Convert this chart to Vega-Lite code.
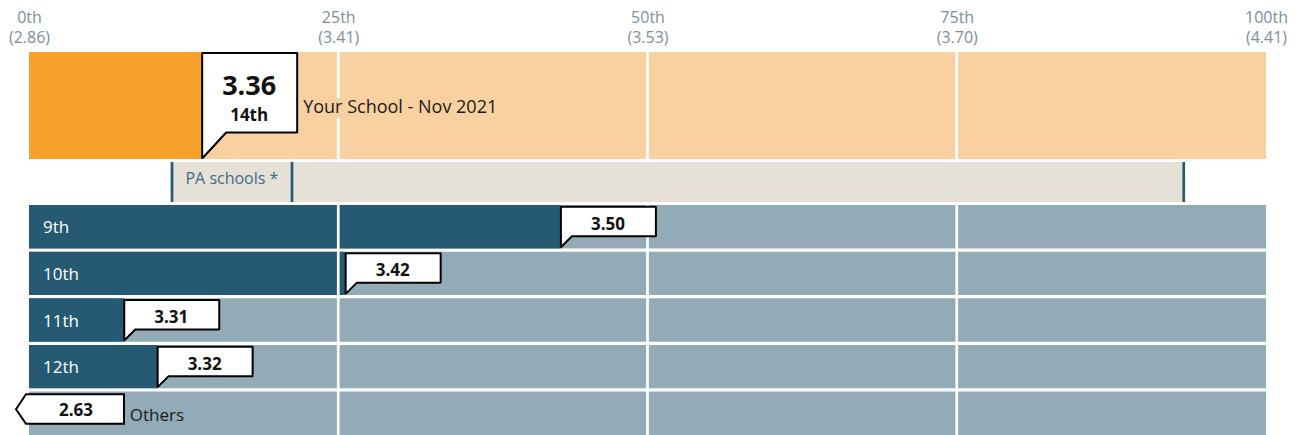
{
  "$schema": "https://vega.github.io/schema/vega-lite/v6.json",
  "padding": {"left": 8, "top": 9, "right": 0, "bottom": 0},
  "spacing": 3,
  "bounds": "flush",
  "config": {"view": {"stroke": null}, "font": "Open Sans"},
  "datasets": {
    "school": [{"row": "Your School", "value": 3.36, "pct": 14, "name": "Your School - Nov 2021", "rank": "14th"}],
    "grid": [{"p": 25}, {"p": 50}, {"p": 75}],
    "pa": [{"row": "PA schools", "lo": 11.56, "mid": 21.26, "hi": 93.35, "name": "PA schools *"}],
    "grades": [
      {"grade": "9th", "value": 3.50, "pct": 43.0},
      {"grade": "10th", "value": 3.42, "pct": 25.6},
      {"grade": "11th", "value": 3.31, "pct": 7.7},
      {"grade": "12th", "value": 3.32, "pct": 10.4},
      {"grade": "Others", "value": 2.63, "pct": 0}
    ]
  },
  "vconcat": [
    {
      "width": 1237,
      "height": 107,
      "data": {"name": "school"},
      "layer": [
        {
          "mark": {"type": "bar", "color": "#F9D0A0"},
          "encoding": {
            "y": {"field": "row", "type": "nominal", "axis": null, "scale": {"type": "band", "paddingInner": 0, "paddingOuter": 0}},
            "x": {
              "datum": 0, "type": "quantitative", "scale": {"domain": [0, 100]},
              "axis": {
                "orient": "top", "values": [0, 25, 50, 75, 100], "title": null,
                "labelExpr": "datum.value == 0 ? ['0th', '(2.86)'] : datum.value == 25 ? ['25th', '(3.41)'] : datum.value == 50 ? ['50th', '(3.53)'] : datum.value == 75 ? ['75th', '(3.70)'] : ['100th', '(4.41)']",
                "domain": false, "ticks": false, "tickSize": 0, "grid": false,
                "labelFlush": false, "labelOverlap": false, "labelBound": false,
                "labelFontSize": 16, "labelFont": "Open Sans", "labelColor": "#7D8E9B",
                "labelPadding": 27, "labelLineHeight": 20
              }
            },
            "x2": {"datum": 100}
          }
        },
        {
          "mark": {"type": "bar", "color": "#F7A02A"},
          "encoding": {
            "y": {"field": "row", "type": "nominal"},
            "x": {"field": "pct", "type": "quantitative"}
          }
        },
        {
          "data": {"name": "grid"},
          "mark": {"type": "rule", "color": "white", "strokeWidth": 2.7},
          "encoding": {"x": {"field": "p", "type": "quantitative"}}
        },
        {
          "mark": {"type": "text", "align": "left", "baseline": "alphabetic", "dx": 101, "dy": 7.8, "fontSize": 18, "fill": "#F9D0A0", "stroke": "#F9D0A0", "strokeWidth": 9},
          "encoding": {
            "y": {"field": "row", "type": "nominal"},
            "x": {"field": "pct", "type": "quantitative"},
            "text": {"field": "name"}
          }
        },
        {
          "mark": {"type": "text", "align": "left", "baseline": "alphabetic", "dx": 101, "dy": 7.8, "fontSize": 18, "color": "#1A1A1A"},
          "encoding": {
            "y": {"field": "row", "type": "nominal"},
            "x": {"field": "pct", "type": "quantitative"},
            "text": {"field": "name"}
          }
        },
        {
          "mark": {"type": "point", "shape": "M0,53 L0,-52.5 L95,-52.5 L95,27 L24,27 Z", "size": 4, "filled": true, "fill": "white", "stroke": "black", "strokeWidth": 2, "opacity": 1, "strokeJoin": "bevel"},
          "encoding": {
            "y": {"field": "row", "type": "nominal"},
            "x": {"field": "pct", "type": "quantitative"}
          }
        },
        {
          "mark": {"type": "text", "align": "center", "baseline": "alphabetic", "dx": 47, "dy": -10.5, "fontSize": 27, "fontWeight": "bold", "color": "#111111"},
          "encoding": {
            "y": {"field": "row", "type": "nominal"},
            "x": {"field": "pct", "type": "quantitative"},
            "text": {"field": "value", "format": ".2f"}
          }
        },
        {
          "mark": {"type": "text", "align": "center", "baseline": "alphabetic", "dx": 47, "dy": 15.2, "fontSize": 17, "fontWeight": "bold", "color": "#111111"},
          "encoding": {
            "y": {"field": "row", "type": "nominal"},
            "x": {"field": "pct", "type": "quantitative"},
            "text": {"field": "rank"}
          }
        }
      ]
    },
    {
      "width": 1237,
      "height": 40,
      "data": {"name": "pa"},
      "layer": [
        {
          "mark": {"type": "bar", "color": "#E5E1D6"},
          "encoding": {
            "y": {"field": "row", "type": "nominal", "axis": null, "scale": {"type": "band", "paddingInner": 0, "paddingOuter": 0}},
            "x": {"field": "lo", "type": "quantitative", "scale": {"domain": [0, 100]}, "axis": null},
            "x2": {"field": "hi"}
          }
        },
        {
          "mark": {"type": "rule", "color": "#255A72", "strokeWidth": 2.7},
          "encoding": {"x": {"field": "lo", "type": "quantitative"}}
        },
        {
          "mark": {"type": "rule", "color": "#255A72", "strokeWidth": 2.7},
          "encoding": {"x": {"field": "mid", "type": "quantitative"}}
        },
        {
          "mark": {"type": "rule", "color": "#255A72", "strokeWidth": 2.7},
          "encoding": {"x": {"field": "hi", "type": "quantitative"}}
        },
        {
          "mark": {"type": "text", "align": "left", "baseline": "alphabetic", "dx": 13.5, "dy": 1.5, "fontSize": 16, "color": "#3F6C83"},
          "encoding": {
            "y": {"field": "row", "type": "nominal"},
            "x": {"field": "lo", "type": "quantitative"},
            "text": {"field": "name"}
          }
        }
      ]
    },
    {
      "width": 1237,
      "height": 230,
      "data": {"name": "grades"},
      "layer": [
        {
          "mark": {"type": "bar", "color": "#93AAB7"},
          "encoding": {
            "y": {"field": "grade", "type": "nominal", "axis": null, "scale": {"type": "band", "domain": ["9th", "10th", "11th", "12th", "Others"], "paddingInner": 0.07, "paddingOuter": 0}},
            "x": {"datum": 0, "type": "quantitative", "scale": {"domain": [0, 100]}, "axis": null},
            "x2": {"datum": 100}
          }
        },
        {
          "mark": {"type": "bar", "color": "#255A72"},
          "encoding": {
            "y": {"field": "grade", "type": "nominal"},
            "x": {"field": "pct", "type": "quantitative"}
          }
        },
        {
          "data": {"name": "grid"},
          "mark": {"type": "rule", "color": "white", "strokeWidth": 2.7},
          "encoding": {"x": {"field": "p", "type": "quantitative"}}
        },
        {
          "transform": [{"filter": "datum.grade != 'Others'"}],
          "mark": {"type": "text", "align": "left", "baseline": "alphabetic", "dx": 14, "dy": 6.5, "fontSize": 17, "color": "white"},
          "encoding": {
            "y": {"field": "grade", "type": "nominal"},
            "x": {"datum": 0, "type": "quantitative"},
            "text": {"field": "grade"}
          }
        },
        {
          "transform": [{"filter": "datum.grade == 'Others'"}],
          "mark": {"type": "text", "align": "left", "baseline": "alphabetic", "dx": 100.7, "dy": 8, "fontSize": 17, "color": "#1A1A1A"},
          "encoding": {
            "y": {"field": "grade", "type": "nominal"},
            "x": {"datum": 0, "type": "quantitative"},
            "text": {"field": "grade"}
          }
        },
        {
          "transform": [{"filter": "datum.grade != 'Others'"}],
          "mark": {"type": "point", "shape": "M0,20.5 L0,-20 L95,-20 L95,9.5 L11,9.5 Z", "size": 4, "filled": true, "fill": "white", "stroke": "black", "strokeWidth": 2, "opacity": 1, "strokeJoin": "bevel"},
          "encoding": {
            "y": {"field": "grade", "type": "nominal"},
            "x": {"field": "pct", "type": "quantitative"}
          }
        },
        {
          "transform": [{"filter": "datum.grade == 'Others'"}],
          "mark": {"type": "point", "shape": "M-13,-4 L-3,-19 L95,-19 L95,10.5 L-3,10.5 Z", "size": 4, "filled": true, "fill": "white", "stroke": "black", "strokeWidth": 2, "opacity": 1, "strokeJoin": "miter"},
          "encoding": {
            "y": {"field": "grade", "type": "nominal"},
            "x": {"field": "pct", "type": "quantitative"}
          }
        },
        {
          "mark": {"type": "text", "align": "center", "baseline": "alphabetic", "dx": 47, "dy": 3, "fontSize": 17, "fontWeight": "bold", "color": "#111111"},
          "encoding": {
            "y": {"field": "grade", "type": "nominal"},
            "x": {"field": "pct", "type": "quantitative"},
            "text": {"field": "value", "format": ".2f"}
          }
        }
      ]
    }
  ]
}
